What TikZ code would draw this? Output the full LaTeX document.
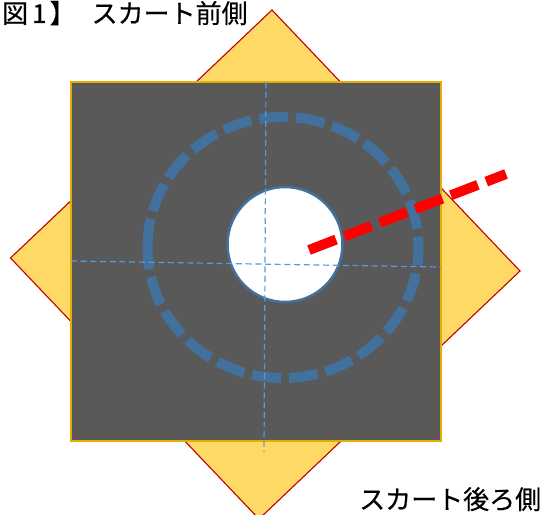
\documentclass[tikz,border=0pt]{standalone}
\usepackage{fontspec}
\newfontfamily\jpfont[FakeBold=0.4]{Noto Sans CJK JP}
\definecolor{skirtfill}{HTML}{FFD966}
\definecolor{skirtline}{HTML}{C00000}
\definecolor{panelfill}{HTML}{595959}
\definecolor{panelline}{HTML}{E6AC00}
\definecolor{ringblue}{HTML}{41719C}
\definecolor{guideblue}{HTML}{5B9BD5}
\tikzset{
  x=1pt,y=1pt,
  skirt/.style={draw=skirtline,fill=skirtfill,line width=1.1pt,line join=miter},
  panel/.style={draw=panelline,fill=panelfill,line width=1.4pt},
  neck/.style={draw=ringblue,fill=white,line width=2.5pt},
  ring/.style={draw=ringblue,line width=10pt,dash pattern=on 29pt off 8pt},
  guide/.style={draw=guideblue,line width=1.2pt,dash pattern=on 6pt off 3.7pt},
  cut/.style={draw=red,line width=10pt,dash pattern=on 29pt off 9pt},
  label/.style={font=\jpfont\fontsize{26pt}{28pt}\selectfont,inner sep=0pt,anchor=base west,text=black}
}
\begin{document}
\begin{tikzpicture}
\useasboundingbox (0,0) rectangle (542,515);
\begin{scope}
\clip (0,0) rectangle (542,515);
\draw[skirt] (10.5,257) -- (272,505) -- (520,244) -- (259,-4) -- cycle;
\draw[panel] (71,433) rectangle (441,74);
\draw[ring] (147.5,267.5) arc[start angle=180,end angle=-180,x radius=135.5,y radius=130.5];
\draw[neck] (285,270.5) circle[radius=57.5];
\coordinate (vt) at (266,433);
\coordinate (vb) at (264,63);
\coordinate (hl) at (71,254);
\coordinate (hr) at (441,248);
\draw[guide] (vt) -- (vb);
\draw[guide] (hl) -- (hr);
\coordinate (cuta) at (309,265);
\coordinate (cutb) at (506,341);
\draw[cut] (cuta) -- (cutb);
\node[label] (front) at (2,0) [yshift=492pt] {図\hspace{4pt}1\hspace{3pt}】\hspace{16pt}スカート前側};
\node[label] (back) at (359,0) [yshift=6pt] {スカート後ろ側};
\end{scope}
\end{tikzpicture}
\end{document}
